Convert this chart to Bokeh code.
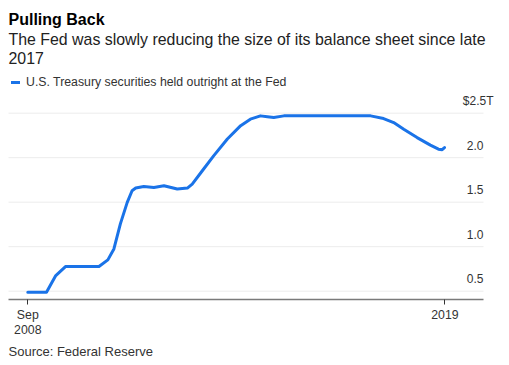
from bokeh.plotting import figure
from bokeh.models import (Label, LabelSet, Legend, LegendItem, FixedTicker,
                          ColumnDataSource, Range1d)
from bokeh.core.properties import value
from bokeh.embed import file_html
from bokeh.resources import INLINE

# ---- data (decimal years, trillions of USD) ----
years = [2008.667, 2009.13, 2009.36, 2009.60, 2010.43, 2010.65, 2010.80, 2010.96,
         2011.13, 2011.25, 2011.34, 2011.54, 2011.79, 2012.04, 2012.37, 2012.62,
         2012.74, 2012.99, 2013.27, 2013.61, 2013.94, 2014.18, 2014.43, 2014.60,
         2014.76, 2015.01, 2017.16, 2017.48, 2017.73, 2017.98, 2018.31, 2018.64,
         2018.84, 2018.93, 2018.99]
treasuries = [0.489, 0.489, 0.676, 0.777, 0.777, 0.852, 0.975, 1.256,
              1.498, 1.629, 1.659, 1.677, 1.666, 1.685, 1.648, 1.659,
              1.704, 1.853, 2.02, 2.21, 2.36, 2.433, 2.47, 2.46,
              2.451, 2.47, 2.47, 2.44, 2.395, 2.32, 2.226, 2.141,
              2.096, 2.09, 2.114]

x_ticks = [2008.667, 2019.0]
x_tick_labels = ["Sep\n2008", "2019"]
y_ticks = [0.5, 1.0, 1.5, 2.0, 2.5]
y_tick_labels = ["0.5", "1.0", "1.5", "2.0", "$2.5T"]

title = "Pulling Back"
subtitle_lines = ["The Fed was slowly reducing the size of its balance sheet since late", "2017"]
series_name = "U.S. Treasury securities held outright at the Fed"
source_text = "Source: Federal Reserve"

FONT = "Liberation Sans"
BLUE = "#1a73e8"
W, H = 509, 365

# ---- pixel layout of the plotting area (canvas px) ----
PX_LEFT, PX_RIGHT, PX_AXIS = 8, 483, 299
X_PX, X_PER_YEAR = 27.3, 40.37          # where the first tick sits, px per year
Y_PX, Y_PER_UNIT = 290.7, 89.0          # where 0.5 sits, px per trillion

def xd(px):
    return x_ticks[0] + (px - X_PX) / X_PER_YEAR

def yd(py):
    return y_ticks[0] + (Y_PX - py) / Y_PER_UNIT

p = figure(width=W, height=H, x_range=Range1d(xd(0), xd(W)), y_range=Range1d(yd(H), yd(0)),
           output_backend="svg", toolbar_location=None, y_axis_location=None,
           min_border_left=0, min_border_right=0, min_border_top=0, min_border_bottom=0)
p.outline_line_color = None
p.grid.visible = False
p.background_fill_color = "white"
p.border_fill_color = "white"

# horizontal gridlines at the y ticks
p.segment(x0=xd(PX_LEFT), x1=xd(PX_RIGHT), y0=y_ticks, y1=y_ticks,
          line_color="#ececec", line_width=1)

ax = p.xaxis[0]
ax.fixed_location = yd(PX_AXIS)
ax.bounds = (xd(PX_LEFT), xd(PX_RIGHT))
ax.ticker = FixedTicker(ticks=x_ticks)
ax.major_label_overrides = dict(zip(x_ticks, x_tick_labels))
ax.axis_line_color = "#7a7a7a"
ax.axis_line_width = 1.5
ax.major_tick_in = 0
ax.major_tick_out = 5
ax.major_tick_line_color = "#333333"
ax.minor_tick_line_color = None
ax.major_label_text_font = FONT
ax.major_label_text_font_size = "12.3px"
ax.major_label_text_color = "#333333"
ax.major_label_text_line_height = 1.1
ax.major_label_standoff = 3

line = p.line(years, treasuries, line_color=BLUE, line_width=3,
              line_join="round", line_cap="round")

# y tick labels, right-aligned above gridlines
ysrc = ColumnDataSource(dict(
    x=[xd(PX_RIGHT)] * len(y_ticks), y=y_ticks, text=y_tick_labels,
    xo=[10 if t.endswith("T") else 0 for t in y_tick_labels]))
p.add_layout(LabelSet(x="x", y="y", text="text", source=ysrc, x_offset="xo", y_offset=8,
                      text_align="right", text_baseline="alphabetic",
                      text_font=value(FONT), text_font_size=value("12px"),
                      text_color="#333333"))

def lab(txt, baseline_py, size, style="normal", color="#222222"):
    p.add_layout(Label(x=8, y=H - baseline_py, x_units="screen", y_units="screen", text=txt,
                       text_font=FONT, text_font_size=size, text_font_style=style,
                       text_color=color, text_baseline="alphabetic", text_align="left"))

lab(title, 19, "16px", "bold", "#000000")
lab(subtitle_lines[0], 38.5, "15.9px", "normal", "#222222")
lab(subtitle_lines[1], 57.8, "15.9px", "normal", "#222222")
lab(source_text, 351, "13px", "normal", "#333333")

legend = Legend(items=[LegendItem(label=series_name, renderers=[line])],
                location=(11, H - 89), orientation="horizontal",
                glyph_width=9, glyph_height=14, label_height=14, label_standoff=6,
                padding=0, margin=0, border_line_color=None, background_fill_alpha=0,
                label_text_font=FONT, label_text_font_size="12.3px",
                label_text_color="#333333")
p.add_layout(legend, "center")

open("out.html", "w").write(file_html(p, INLINE))
